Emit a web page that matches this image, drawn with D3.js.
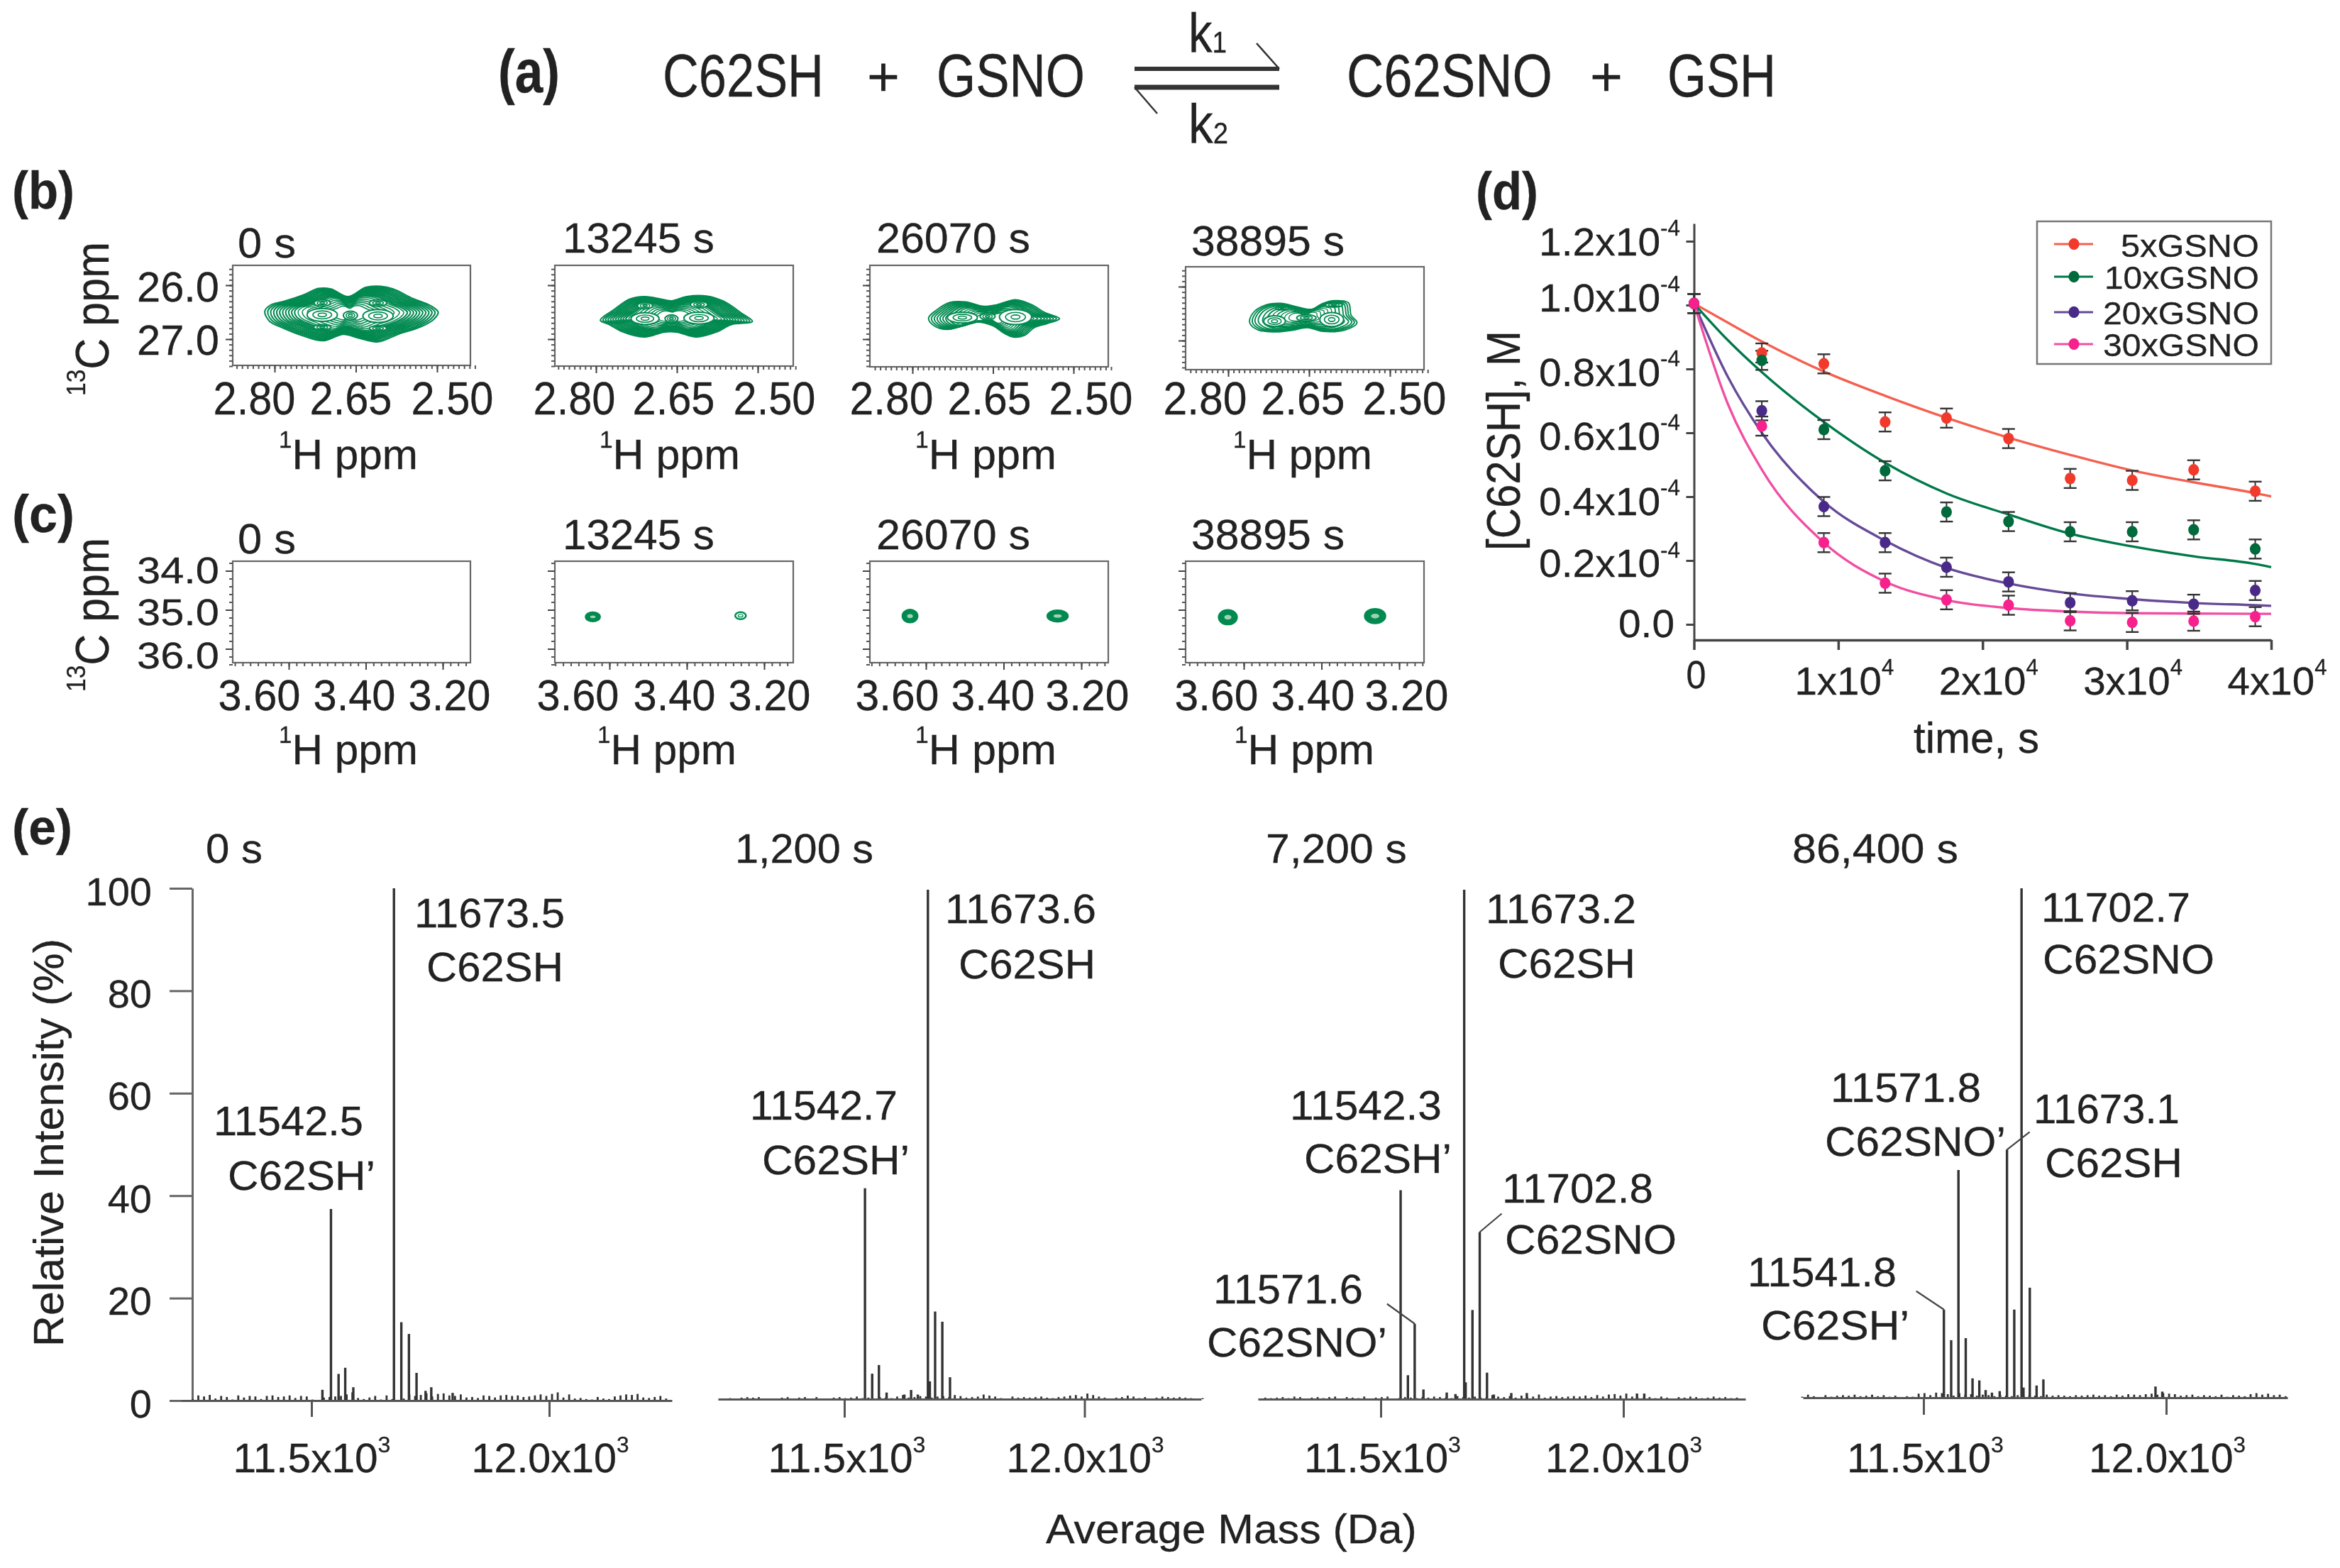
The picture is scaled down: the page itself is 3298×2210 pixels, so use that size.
<!DOCTYPE html>
<html><head><meta charset="utf-8">
<script src="https://cdn.jsdelivr.net/npm/d3@7"></script>
<style>
html,body{margin:0;padding:0;background:#fff}
svg{display:block;filter:blur(0.75px)}
text{font-family:"Liberation Sans",Arial,sans-serif;fill:#222;stroke:#222;stroke-width:.3}
</style></head><body>
<script>
// ---------- panel (d) data ----------
const seriesNames = ["5xGSNO","10xGSNO","20xGSNO","30xGSNO"];
const seriesLine = ["#f4604f","#00794a","#674a97","#f04fa2"];
const seriesDot = ["#f23a2c","#006a3c","#4a2a88","#f7218e"];
const times = [0,4700,9000,13245,17500,21800,26070,30370,34630,38895];
const obs5 = [1.005,0.85,0.816,0.634,0.646,0.582,0.457,0.451,0.484,0.417];
const obs10 = [1.005,0.827,0.61,0.481,0.352,0.322,0.29,0.29,0.296,0.236];
const obs20 = [1.005,0.669,0.369,0.256,0.179,0.133,0.068,0.074,0.063,0.106];
const obs30 = [1.005,0.621,0.256,0.129,0.077,0.06,0.011,0.006,0.01,0.024];
const errBar = 0.03;
const fitTimes = [0,2350,4700,9000,13245,17500,21800,26070,30370,34630,38895,40000];
const fit5 = [1.005,0.945,0.886,0.792,0.716,0.647,0.585,0.531,0.482,0.445,0.411,0.401];
const fit10 = [1.005,0.89,0.79,0.634,0.506,0.41,0.344,0.284,0.244,0.213,0.189,0.179];
const fit20 = [1.005,0.775,0.60,0.384,0.262,0.177,0.128,0.097,0.079,0.067,0.060,0.058];
const fit30 = [1.005,0.69,0.485,0.256,0.134,0.076,0.051,0.04,0.035,0.034,0.033,0.033];
const dYTicks = [1.2,1.0,0.8,0.6,0.4,0.2,0.0];
const dXTicks = [0,10000,20000,30000,40000];

// ---------- panels (b), (c) data ----------
const nmrTimes = ["0 s","13245 s","26070 s","38895 s"];
const bXTicks = [2.80,2.65,2.50];
const bYTicks = [26.0,27.0];
const cXTicks = [3.60,3.40,3.20];
const cYTicks = [34.0,35.0,36.0];
const outlineB1 = [[2.818,26.48],[2.806,26.36],[2.783,26.30],[2.747,26.18],[2.719,26.06],[2.696,26.07],[2.664,26.21],[2.632,26.04],[2.604,26.02],[2.581,26.07],[2.544,26.25],[2.512,26.38],[2.498,26.50],[2.506,26.63],[2.530,26.77],[2.572,26.91],[2.609,27.05],[2.645,26.98],[2.673,26.91],[2.710,27.03],[2.747,26.94],[2.783,26.80],[2.810,26.66]];
const outlineB2 = [[2.792,26.65],[2.766,26.45],[2.738,26.26],[2.710,26.21],[2.683,26.25],[2.660,26.29],[2.632,26.21],[2.595,26.20],[2.563,26.30],[2.530,26.52],[2.510,26.67],[2.549,26.73],[2.577,26.87],[2.614,26.96],[2.650,26.87],[2.674,26.87],[2.710,26.96],[2.752,26.86],[2.775,26.73]];
const outlineB3 = [[2.770,26.61],[2.755,26.46],[2.730,26.32],[2.701,26.31],[2.667,26.39],[2.642,26.36],[2.608,26.27],[2.578,26.36],[2.553,26.51],[2.526,26.62],[2.549,26.71],[2.574,26.79],[2.591,26.93],[2.612,26.96],[2.629,26.89],[2.650,26.75],[2.684,26.68],[2.709,26.75],[2.734,26.82],[2.760,26.75]];
const outlineB4 = [[2.760,26.67],[2.754,26.49],[2.733,26.35],[2.703,26.31],[2.674,26.37],[2.645,26.42],[2.624,26.31],[2.603,26.26],[2.577,26.30],[2.572,26.53],[2.561,26.67],[2.582,26.80],[2.624,26.83],[2.653,26.76],[2.682,26.81],[2.716,26.84],[2.745,26.80]];
const peaksB1 = [[2.712,26.55,0.028,0.12],[2.609,26.57,0.028,0.12],[2.712,26.33,0.015,0.06],[2.609,26.33,0.016,0.06],[2.660,26.56,0.013,0.08],[2.712,26.78,0.016,0.05],[2.609,26.80,0.016,0.05]];
const peaksB2 = [[2.709,26.62,0.026,0.11],[2.609,26.61,0.028,0.11],[2.709,26.38,0.014,0.06],[2.609,26.36,0.016,0.06],[2.660,26.62,0.012,0.07]];
const peaksB3 = [[2.707,26.60,0.028,0.10],[2.608,26.59,0.03,0.14],[2.660,26.58,0.014,0.06]];
const peaksB4 = [[2.714,26.64,0.02,0.10],[2.608,26.61,0.022,0.13],[2.604,26.34,0.016,0.04],[2.700,26.40,0.012,0.03],[2.655,26.58,0.018,0.06]];
const contourDense = [1,.965,.93,.895,.86,.825,.79,.755,.72,.685,.65,.61,.56,.50,.44,.38,.32,.26];
const contourMid = [1,.955,.91,.865,.82,.775,.73,.675,.62,.56,.50,.44,.38,.32,.26];
const contourSparse = [1,.95,.90,.84,.76,.68,.60,.52,.44,.36,.28];
const spotsC2 = [[3.643,35.18,0.018,0.11,1],[3.261,35.15,0.014,0.09,0]];
const spotsC3 = [[3.641,35.16,0.019,0.16,1],[3.261,35.16,0.026,0.14,1]];
const spotsC4 = [[3.641,35.19,0.023,0.18,1],[3.262,35.16,0.026,0.18,1]];

// ---------- panel (e) data ----------
const eYTicks = [0,20,40,60,80,100];
const eXTicks = [11500,12000];
const msMass1 = [11523,11541,11557,11571,11588,11673.5,11689,11705,11721,11740,11752,11797];
const msPct1 = [2.1,37.4,5.2,6.4,2.6,100,15.3,13,5.4,1.9,2.6,1.5];
const msMass2 = [11543,11558,11572,11588,11625,11639,11653,11674,11678,11689,11704,11720];
const msPct2 = [41.4,5,6.7,1.3,0.9,1.8,0.9,100,3.5,17.2,15.2,4.3];
const msMass3 = [11541,11556,11570,11588,11636,11654,11672,11675,11689,11704,11719,11733,11769,11801,12028,12043];
const msPct3 = [41,4.7,14.8,1.9,1.3,1,100,3.3,17.5,32.8,5.2,0.9,1.2,1.2,1.1,1.1];
const msMass4 = [11542,11557,11572,11587,11601,11615,11628,11641,11657,11672,11687,11702,11706,11719,11733,11747,11978,11992];
const msPct4 = [17.3,11.3,44.7,11.7,3.8,3.4,1.5,1,1.3,48.7,17.3,100,2,21.6,2.4,3.6,2.2,1.2];
const noiseStart = 11250, noiseStep = 12;
const noise1 = [.3,1,.8,1.1,.4,.9,.7,.2,1,.6,.9,.8,.3,.9,1,.7,.8,1,.5,.9,.8,.2,.1,.6,.7,.8,.9,1.2,1.6,.5,.3,.6,.9,.2,1,.3,.1,.4,1.2,.9,1.1,1.4,.8,1.3,1.4,1,.9,1.2,.6,.7,.5,1,.9,.6,1,1.1,.9,1,.7,.8,1,1.2,.9,1.3,1.6,.6,1.2,.4,.5,.3,.2,.7,.4,.3,.8,1,1.2,1.1,1.3,.6,.5,.7,.9,.4];
const noise2 = [.1,.2,.1,.3,.4,.3,.4,.1,0,.1,.3,.4,.1,.3,.4,.1,.4,.1,0,.3,.4,.2,.3,.5,.2,.3,.1,.4,.3,.2,.5,.8,.3,.4,.6,.5,.3,.5,.6,.4,.8,.6,.3,.4,.5,.9,.7,.5,.2,.1,.5,.3,.4,.3,.4,.5,.3,.2,.4,.5,.7,.8,.5,1.1,.8,.5,.3,.1,.3,.4,.7,.5,.2,.4,.1,.3,.5,.4,.3,.4,.3,.2,.1,.2];
const noise3 = [.1,.3,.2,.3,.4,.2,.5,.4,.1,.3,.4,.2,.4,.5,.1,.4,.3,.2,.5,.1,.3,.4,.5,.1,.2,.4,.3,.2,.4,.3,.5,.4,.3,.2,.6,.4,.3,.5,.3,.4,.8,.5,.4,.6,.3,.7,.4,.5,.9,.3,.5,.6,.4,.5,.6,.5,.7,.4,.8,.5,.9,1,.7,1.1,.5,.2,.3,.4,.2,.5,.3,.1,.4,.3,.5,.4,.2,.3,.5,.3,.4,.2,.3,.1];
const noise4 = [.2,.6,.3,.1,.5,.2,.4,.5,.4,.6,.3,.4,.6,.3,.5,.2,.4,.1,.3,.2,.8,.9,.5,1,.9,.7,.4,.9,.6,.7,.4,.6,.5,.3,.6,.4,.3,.5,.4,.5,.4,.3,.6,.4,.5,.4,.3,.5,.4,.5,.6,.4,.5,.3,.6,.4,.7,.6,.5,.7,.8,.6,.9,.8,.7,.4,.5,.6,.3,.5,.4,.3,.6,.2,.5,.4,.3,.7,.9,.6,.8,.5,.6,.3];

// ---------- helpers ----------
const W = 3298, H = 2210;
const svg = d3.select("body").append("svg").attr("width",W).attr("height",H).attr("viewBox",`0 0 ${W} ${H}`);
svg.append("rect").attr("width",W).attr("height",H).attr("fill","#fff");
function runs(el, parts, size, weight){
  el.text(null).attr("font-size",size).attr("font-weight",weight||"normal").attr("text-anchor","start").attr("x",0).attr("y",0).attr("dy",0).attr("dx",0);
  if (typeof parts === "string") parts=[[parts,0]];
  let prevSup=false;
  parts.forEach(([t,kind])=>{
    const sp=el.append("tspan").text(t);
    let dy=0; const small=kind!==0;
    if(kind===1) dy=-size*0.5;
    if(prevSup && kind===0) dy=size*0.5;
    sp.attr("font-size",small?size*0.55:size).attr("dy",dy);
    prevSup=kind===1;
  });
  return el;
}
function fitH(el,x0,x1,y){
  const n=el.node().getComputedTextLength();
  el.attr("transform",`translate(${x0},${y}) scale(${(x1-x0)/n},1)`);
  return el;
}
function fitV(el,x,yBottom,yTop){
  const n=el.node().getComputedTextLength();
  el.attr("transform",`translate(${x},${yBottom}) rotate(-90) scale(${(yBottom-yTop)/n},1)`);
  return el;
}
const root = svg.append("g");
function T(parts,x0,x1,y,size,weight){ return fitH(runs(root.append("text"),parts,size,weight),x0,x1,y); }
function V(parts,x,yB,yT,size){ return fitV(runs(root.append("text"),parts,size),x,yB,yT); }
function seg(g,x1,y1,x2,y2,w,c){ g.append("line").attr("x1",x1).attr("y1",y1).attr("x2",x2).attr("y2",y2).attr("stroke",c||"#333").attr("stroke-width",w); }
function styleAxis(g,c,w){ g.selectAll("line").attr("stroke",c).attr("stroke-width",w); g.selectAll("path.domain").attr("stroke",c).attr("stroke-width",w); }

// ---------- (a) equation ----------
T("(a)",702,789,130,86,"bold");
T("C62SH",934,1161,136,86);
T("+",1222,1268,135,78);
T("GSNO",1320,1529,136,86);
T([["k",0],["1",-1]],1675,1729,74,78);
T([["k",0],["2",-1]],1675,1731,202,78);
T("C62SNO",1898,2188,136,86);
T("+",2241,2287,135,78);
T("GSH",2350,2503,136,86);
seg(root,1599,97,1803,97,6);
seg(root,1599,123,1803,123,7);
seg(root,1771,61,1803,97,2.5);
seg(root,1599,123,1631,160,2.5);

// ---------- (b), (c) panels ----------
const bLabelX = [[300,436,579],[751,891,1033],[1197,1335,1478],[1639,1777,1920]];
const cLabelX = [[307,441,575],[756,892,1026],[1205,1340,1473],[1655,1791,1923]];
const frames = [[328,663],[782,1118],[1226,1562],[1671,2007]];
const bTickPx = [[387,616],[840,1068],[1286,1513],[1731,1959]];
const cTickPx = [[407,624],[859,1077],[1305,1524],[1753,1972]];
const bTitle = [[335,417,363],[793,1007,356],[1235,1452,356],[1679,1895,360]];
const cTitle = [[335,417,780],[793,1007,774],[1235,1452,774],[1679,1895,774]];
const bHppm = [[393,589],[845,1043],[1290,1489],[1738,1934]];
const cHppm = [[393,589],[842,1038],[1290,1489],[1740,1937]];
const bFrameY = [[374,515],[374,516],[374,517],[376,521]];
const green = "#008a50";
function mapped(d0,d1,p0,p1,r0,r1){
  const s=d3.scaleLinear().domain([d0,d1]).range([p0,p1]);
  return d3.scaleLinear().domain([s.invert(r0),s.invert(r1)]).range([r0,r1]);
}
function nmrAxes(fx0,fx1,fy0,fy1,xs,ys,xTicks,yTicks,xMinor,yMinor,xLab,labW,labBase,labFont,yLab,yFont){
  root.append("rect").attr("x",fx0).attr("y",fy0).attr("width",fx1-fx0).attr("height",fy1-fy0).attr("fill","none").attr("stroke","#666").attr("stroke-width",2.2);
  const gm=root.append("g").attr("transform",`translate(0,${fy1})`).call(d3.axisBottom(xs).tickValues(xMinor).tickSize(5).tickSizeOuter(0).tickFormat(""));
  gm.select(".domain").remove(); styleAxis(gm,"#555",2);
  const gl=root.append("g").attr("transform",`translate(${fx0},0)`).call(d3.axisLeft(ys).tickValues(yMinor).tickSize(5).tickSizeOuter(0).tickFormat(""));
  gl.select(".domain").remove(); styleAxis(gl,"#555",2);
  const gx=root.append("g").attr("transform",`translate(0,${fy1})`).call(d3.axisBottom(xs).tickValues(xTicks).tickSize(10).tickSizeOuter(0).tickFormat(d3.format(".2f")));
  gx.select(".domain").remove(); styleAxis(gx,"#444",2);
  gx.selectAll(".tick text").each(function(d,i){
    const el=d3.select(this), s=el.text();
    runs(el,s,labFont);
    fitH(el,xLab[i]-xs(d),xLab[i]-xs(d)+labW,labBase-fy1);
  });
  const gy=root.append("g").attr("transform",`translate(${fx0},0)`).call(d3.axisLeft(ys).tickValues(yTicks).tickSize(10).tickSizeOuter(0).tickFormat(d3.format(".1f")));
  gy.select(".domain").remove(); styleAxis(gy,"#444",2);
  gy.selectAll(".tick text").each(function(d,i){
    const el=d3.select(this);
    if(!yLab){ el.remove(); return; }
    const s=el.text();
    runs(el,s,yFont);
    fitH(el,193-fx0,309-fx0,yLab[i]-ys(d));
  });
}
function contours(xs,ys,outline,peaks,levels,sw){
  const cx=d3.mean(outline,d=>d[0]), cy=d3.mean(outline,d=>d[1]);
  const g=root.append("g").attr("fill","none").attr("stroke",green);
  levels.forEach((l,i)=>{
    const line=d3.line().x(d=>xs(cx+(d[0]-cx)*l)).y(d=>ys(cy+(d[1]-cy)*l)).curve(d3.curveCatmullRomClosed.alpha(0.5));
    g.append("path").attr("d",line(outline)).attr("stroke-width",l>0.62?sw:sw*0.72);
  });
  peaks.forEach(p=>{
    [1,0.62,0.28].forEach((l,i)=>{
      g.append("ellipse").attr("cx",xs(p[0])).attr("cy",ys(p[1]))
       .attr("rx",Math.abs(xs(p[0]+p[2]*l)-xs(p[0]))).attr("ry",Math.abs(ys(p[1]+p[3]*l)-ys(p[1])))
       .attr("fill","#fff").attr("stroke",green).attr("stroke-width",i===0?2:1.6);
    });
  });
}
function spots(xs,ys,list){
  list.forEach(p=>{
    const rx=Math.abs(xs(p[0]+p[2])-xs(p[0])), ry=Math.abs(ys(p[1]+p[3])-ys(p[1]));
    root.append("ellipse").attr("cx",xs(p[0])).attr("cy",ys(p[1])).attr("rx",rx).attr("ry",ry).attr("fill",p[4]?green:"#fff").attr("stroke",green).attr("stroke-width",p[4]?3:2.5);
    root.append("ellipse").attr("cx",xs(p[0])).attr("cy",ys(p[1])).attr("rx",rx*0.45).attr("ry",ry*0.4).attr("fill",p[4]?"#9fd0b5":"#e6f3ec").attr("stroke",green).attr("stroke-width",1.2);
  });
}
const bOutlines=[outlineB1,outlineB2,outlineB3,outlineB4];
const bPeaks=[peaksB1,peaksB2,peaksB3,peaksB4];
const bLevels=[contourDense,contourDense,contourMid,contourSparse];
const bWidths=[2.1,2.1,2,1.9];
const cSpots=[[],spotsC2,spotsC3,spotsC4];
frames.forEach((f,i)=>{
  // (b)
  const fy=bFrameY[i];
  const xb=mapped(2.80,2.50,bTickPx[i][0],bTickPx[i][1],f[0],f[1]);
  const yb=mapped(26,27,402+(fy[0]-374),478+(fy[0]-374),fy[0],fy[1]);
  contours(xb,yb,bOutlines[i],bPeaks[i],bLevels[i],bWidths[i]);
  nmrAxes(f[0],f[1],fy[0],fy[1],xb,yb,bXTicks,bYTicks,d3.range(2.43,2.88,0.01),d3.range(25.7,27.5,0.1),bLabelX[i],i<2?116:118,584,64,i===0?[424,499]:null,60);
  T(nmrTimes[i],bTitle[i][0],bTitle[i][1],bTitle[i][2],60);
  T([["1",1],["H ppm",0]],bHppm[i][0],bHppm[i][1],661,60);
  // (c)
  const xc=mapped(3.60,3.20,cTickPx[i][0],cTickPx[i][1],f[0],f[1]);
  const yc=mapped(34,36,804.5,914.5,791,934);
  spots(xc,yc,cSpots[i]);
  nmrAxes(f[0],f[1],791,934,xc,yc,cXTicks,cYTicks,d3.range(3.14,3.75,0.02),d3.range(33.8,36.4,0.2),cLabelX[i],i<2?116:118,1001,62,i===0?[821,880,941]:null,52);
  T(nmrTimes[i],cTitle[i][0],cTitle[i][1],cTitle[i][2],60);
  T([["1",1],["H ppm",0]],cHppm[i][0],cHppm[i][1],1077,60);
});
T("(b)",17,105,294,74,"bold");
T("(c)",17,105,750,74,"bold");
V([["13",1],["C ppm",0]],153,558,341,66);
V([["13",1],["C ppm",0]],153,975,758,66);

// ---------- (d) kinetics ----------
T("(d)",2080,2168,295,74,"bold");
const xD=d3.scaleLinear().domain([0,40000]).range([2387.5,3201]);
const yD=d3.scaleLinear().domain([-0.0489,1.2556]).range([902,315]);
const obs=[obs5,obs10,obs20,obs30], fits=[fit5,fit10,fit20,fit30];
const gdY=root.append("g").attr("transform",`translate(${xD(0)},0)`).call(d3.axisLeft(yD).tickValues(dYTicks).tickSize(11).tickSizeOuter(0).tickFormat(d3.format(".1f")));
styleAxis(gdY,"#444",3);
const dYLabDy=[19,8,23,23,25,23,18];
gdY.selectAll(".tick text").each(function(d,i){
  const el=d3.select(this), s=el.text();
  if(d===0){ runs(el,s,56); fitH(el,2281-xD(0),2360-xD(0),dYLabDy[i]); }
  else { runs(el,[[s+"x10",0],["-4",1]],56); fitH(el,2169-xD(0),2368-xD(0),dYLabDy[i]); }
});
const gdX=root.append("g").attr("transform","translate(0,902)").call(d3.axisBottom(xD).tickValues(dXTicks).tickSize(14).tickSizeOuter(0).tickFormat(d=>d?d/10000:"0"));
styleAxis(gdX,"#444",3.5);
gdX.selectAll(".tick text").each(function(d,i){
  const el=d3.select(this), s=el.text();
  if(d===0){ runs(el,"0",56); fitH(el,-11.5,16.5,68); }
  else { runs(el,[[s+"x10",0],["4",1]],56); fitH(el,-62,78,77); }
});
T("time, s",2697,2874,1061,62);
V("[C62SH], M",2142,776,466,66);
const gd=root.append("g");
seriesNames.forEach((n,k)=>{
  const line=d3.line().x((d,i)=>xD(fitTimes[i])).y(d=>yD(d)).curve(d3.curveMonotoneX);
  gd.append("path").attr("d",line(fits[k])).attr("fill","none").attr("stroke",seriesLine[k]).attr("stroke-width",3.4);
});
seriesNames.forEach((n,k)=>{
  times.forEach((t,i)=>{
    const x=xD(t), y0=yD(obs[k][i]-errBar), y1=yD(obs[k][i]+errBar);
    seg(gd,x,y0,x,y1,2,"#333");
    seg(gd,x-9,y0,x+9,y0,2.4,"#333");
    seg(gd,x-9,y1,x+9,y1,2.4,"#333");
  });
});
seriesNames.forEach((n,k)=>{
  gd.selectAll(null).data(obs[k]).join("ellipse").attr("cx",(d,i)=>xD(times[i])).attr("cy",d=>yD(d)).attr("rx",7.6).attr("ry",8.2).attr("fill",seriesDot[k]);
});
root.append("rect").attr("x",2871).attr("y",312).attr("width",330).attr("height",201).attr("fill","#fff").attr("stroke","#777").attr("stroke-width",2.5);
const legY=[344,390,440,485], legBase=[362,407,457,502], legLeft=[2989,2966,2964,2964];
seriesNames.forEach((n,k)=>{
  seg(root,2895,legY[k],2950,legY[k],3,seriesLine[k]);
  root.append("ellipse").attr("cx",2923).attr("cy",legY[k]).attr("rx",7.6).attr("ry",8.2).attr("fill",seriesDot[k]);
  T(n,legLeft[k],3184,legBase[k],44);
});

// ---------- (e) mass spectra ----------
T("(e)",17,102,1190,70,"bold");
const yE=d3.scaleLinear().domain([0,100]).range([1974,1252]);
const gEY=root.append("g").attr("transform","translate(271,0)").call(d3.axisLeft(yE).tickValues(eYTicks).tickSize(32).tickSizeOuter(0).tickFormat(d3.format("d")));
styleAxis(gEY,"#666",3);
gEY.selectAll(".tick text").attr("font-size",56).attr("text-anchor","end").attr("x",-57).attr("y",23).attr("dy",0);
V("Relative Intensity (%)",89,1898,1323,60);
T("Average Mass (Da)",1474,1997,2175,57);
const specs=[
 {mass:msMass1,pct:msPct1,noise:noise1,tick:[439,774],ext:[255,947],base:1974,top:1252,tb:1997,title:["0 s",290,370],
  lab:[439,775],lw:222,
  texts:[["11673.5",584,796,1307],["C62SH",601,794,1383],["11542.5",301,512,1600],["C62SH’",321,529,1677]],leaders:[]},
 {mass:msMass2,pct:msPct2,noise:noise2,tick:[1190,1528.5],ext:[1012,1693],base:1972,top:1254,tb:1998,title:["1,200 s",1036,1231],
  lab:[1193,1529],lw:222,
  texts:[["11673.6",1332,1545,1301],["C62SH",1351,1544,1379],["11542.7",1057,1265,1578],["C62SH’",1074,1282,1655]],leaders:[]},
 {mass:msMass3,pct:msPct3,noise:noise3,tick:[1946,2288],ext:[1773,2460],base:1972,top:1254,tb:1998,title:["7,200 s",1784,1983],
  lab:[1948,2288],lw:221,
  texts:[["11673.2",2094,2306,1301],["C62SH",2111,2305,1378],["11542.3",1818,2032,1578],["C62SH’",1838,2046,1653],["11702.8",2117,2330,1695],["C62SNO",2121,2363,1767],["11571.6",1710,1921,1837],["C62SNO’",1701,1955,1912]],
  leaders:[[11704,32.8,31,-26],[11570,14.8,-39,-28]]},
 {mass:msMass4,pct:msPct4,noise:noise4,tick:[2711,3053],ext:[2541,3224],base:1970,top:1252,tb:1994,title:["86,400 s",2526,2760],
  lab:[2713,3054],lw:221,
  texts:[["11702.7",2877,3087,1299],["C62SNO",2879,3121,1372],["11571.8",2580,2792,1553],["C62SNO’",2572,2827,1629],["11673.1",2866,3072,1583],["C62SH",2882,3076,1659],["11541.8",2463,2673,1813],["C62SH’",2482,2691,1888]],
  leaders:[[11672,48.7,32,-25],[11542,17.3,-39,-26]]}
];
specs.forEach(s=>{
  const xs=mapped(11500,12000,s.tick[0],s.tick[1],s.ext[0],s.ext[1]);
  const ys=d3.scaleLinear().domain([0,100]).range([s.base,s.top]);
  const g=root.append("g");
  g.selectAll(null).data(s.noise).join("line")
    .attr("x1",(d,i)=>xs(noiseStart+i*noiseStep)).attr("x2",(d,i)=>xs(noiseStart+i*noiseStep))
    .attr("y1",ys(0)).attr("y2",d=>ys(d)).attr("stroke","#333").attr("stroke-width",2.8);
  g.selectAll(null).data(s.pct).join("line")
    .attr("x1",(d,i)=>xs(s.mass[i])).attr("x2",(d,i)=>xs(s.mass[i]))
    .attr("y1",ys(0)).attr("y2",d=>ys(d)).attr("stroke","#333").attr("stroke-width",3.4);
  const ax=root.append("g").attr("transform",`translate(0,${s.base})`).call(d3.axisBottom(xs).tickValues(eXTicks).tickSize(s.tb-s.base).tickSizeOuter(0).tickFormat(d=>(d/1000).toFixed(1)));
  styleAxis(ax,"#555",3);
  ax.selectAll(".tick text").each(function(d,i){
    const el=d3.select(this), t=el.text();
    runs(el,[[t+"x10",0],["3",1]],57);
    const off=s.lab[i]-xs(d);
    fitH(el,off-s.lw/2,off+s.lw/2,2075-s.base);
  });
  T(s.title[0],s.title[1],s.title[2],1216,57);
  s.texts.forEach(t=>T(t[0],t[1],t[2],t[3],58));
  s.leaders.forEach(l=>{ const x=xs(l[0]), y=ys(l[1]); seg(root,x,y,x+l[2],y+l[3],2.2,"#444"); });
});
</script>
</body></html>
